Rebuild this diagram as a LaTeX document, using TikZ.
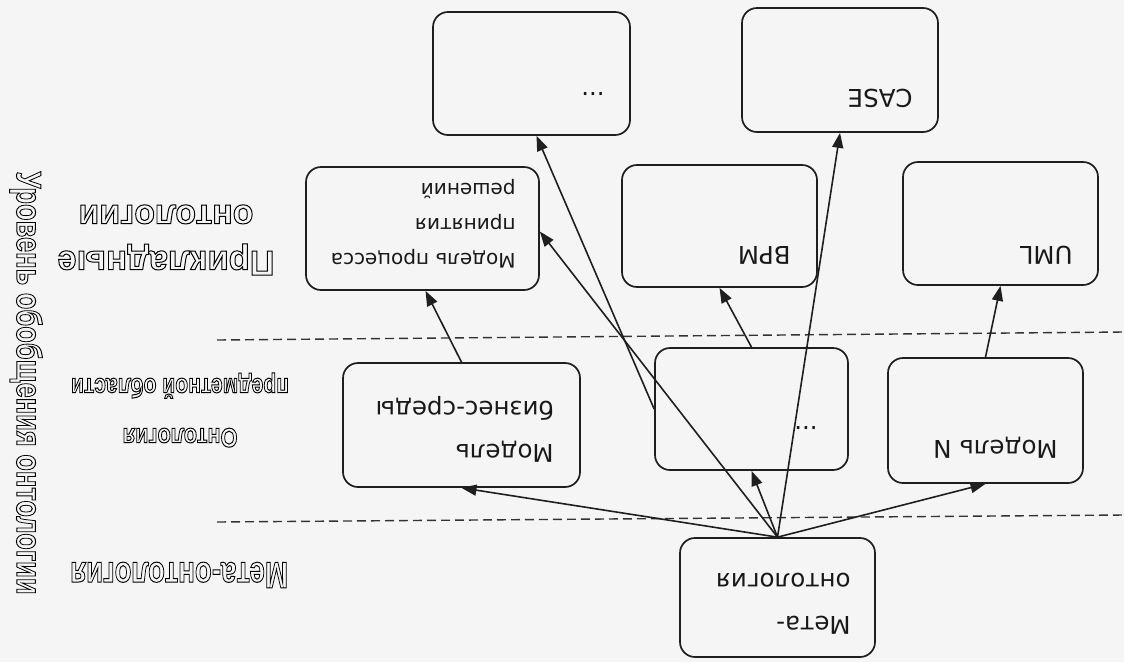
\documentclass[tikz,border=0pt]{standalone}
\usepackage{graphicx}
\usepackage{fontspec}
\setmainfont{DejaVu Sans}
\newfontfamily\lblfont{Liberation Sans}
\usetikzlibrary{arrows.meta}
\newcommand\hollowtxt[1]{\special{pdf:literal direct q 1 Tr 1.0 w}#1\special{pdf:literal direct Q}}
\newcommand\lbl[2]{\resizebox{#1}{\height}{\hollowtxt{\lblfont\bfseries #2}}}
\begin{document}
\begin{tikzpicture}[x=1pt,y=-1pt,
  box/.style={draw=black!88, line width=1.7pt, rounded corners=15pt, inner sep=0pt},
  btxt/.style={rotate=180, anchor=north west, inner sep=0pt, align=left, text=black!90,
    font=\fontsize{24.5}{43}\selectfont},
  ptxt/.style={btxt, font=\fontsize{20}{35}\selectfont},
  arr/.style={draw=black!88, line width=1.6pt, -{Triangle[length=15pt,width=11pt]}},
  dline/.style={draw=black!80, line width=1.4pt, dash pattern=on 9pt off 5pt},
  lvl/.style={rotate=180, inner sep=0pt, align=center, text=black, font=\fontsize{35}{42}\selectfont}]
\fill[black!4] (0,0) rectangle (1124,662);
\useasboundingbox (0,0) rectangle (1124,662);
% dashed level separators
\draw[dline] (217,340) -- (1124,332);
\draw[dline] (217,522) -- (1124,515);
% boxes
\node[box, minimum width=197pt, minimum height=123pt] (topdots) at (531.5,73.5) {};
\node[box, minimum width=196pt, minimum height=124pt] (case) at (840,70) {};
\node[box, minimum width=233pt, minimum height=123pt] (proc) at (422.5,228.5) {};
\node[box, minimum width=195pt, minimum height=122pt] (bpm) at (719.5,226) {};
\node[box, minimum width=195pt, minimum height=123pt] (uml) at (1000.5,223.5) {};
\node[box, minimum width=237pt, minimum height=124pt] (biz) at (461.5,425) {};
\node[box, minimum width=193pt, minimum height=122pt] (middots) at (751.5,409) {};
\node[box, minimum width=195pt, minimum height=125pt] (modn) at (985.5,420.5) {};
\node[box, minimum width=195pt, minimum height=119pt] (meta) at (777.5,597.5) {};
% box texts
\node[btxt] (ttopdots) at ([xshift=-26pt,yshift=25pt]topdots.south east) {\vphantom{M}...};
\node[btxt] (tcase) at ([xshift=-26pt,yshift=25pt]case.south east) {CASE};
\node[ptxt] (tproc) at ([xshift=-24pt,yshift=23pt]proc.south east) {\vphantom{M}Модель процесса\\принятия\\решений};
\node[btxt] (tbpm) at ([xshift=-27pt,yshift=23pt]bpm.south east) {BPM};
\node[btxt] (tuml) at ([xshift=-26pt,yshift=21pt]uml.south east) {UML};
\node[btxt] (tbiz) at ([xshift=-27pt,yshift=25pt]biz.south east) {Модель\\бизнес-среды};
\node[btxt] (tmiddots) at ([xshift=-31pt,yshift=26pt]middots.south east) {\vphantom{M}...};
\node[btxt] (tmodn) at ([xshift=-26pt,yshift=25pt]modn.south east) {Модель N};
\node[btxt] (tmeta) at ([xshift=-25pt,yshift=23pt]meta.south east) {Мета-\\онтология};
% connectors
\draw[arr] (meta.north) -- (biz.south);
\draw[arr] (meta.north) -- (middots.south);
\draw[arr] (meta.north) -- (modn.south);
\draw[arr] (meta.north) -- ([yshift=-3pt]proc.east);
\draw[arr] (meta.north) -- (case.south);
\draw[arr] (middots.north) -- (bpm.south);
\draw[arr] (middots.west) -- ([xshift=5pt]topdots.south);
\draw[arr] (biz.north) -- ([xshift=3pt]proc.south);
\draw[arr] (modn.north) -- (uml.south);
% level labels
\node[lvl] (lapp) at (166,240) {\lbl{217pt}{Прикладные}\\[4pt]\lbl{175pt}{онтологии}};
\node[lvl, font=\fontsize{27}{30}\selectfont] (ldom) at (180,410) {\lbl{115pt}{Онтология}\\[20pt]\lbl{218pt}{предметной области}};
\node[lvl, font=\fontsize{37}{40}\selectfont] (lmeta) at (179,575) {\lbl{218pt}{Мета-онтология}};
\node[rotate=-90, inner sep=0pt, font=\fontsize{35}{42}\selectfont] (laxis) at (26,383) {\lbl{423pt}{Уровень обобщения онтологии}};
\end{tikzpicture}
\end{document}
